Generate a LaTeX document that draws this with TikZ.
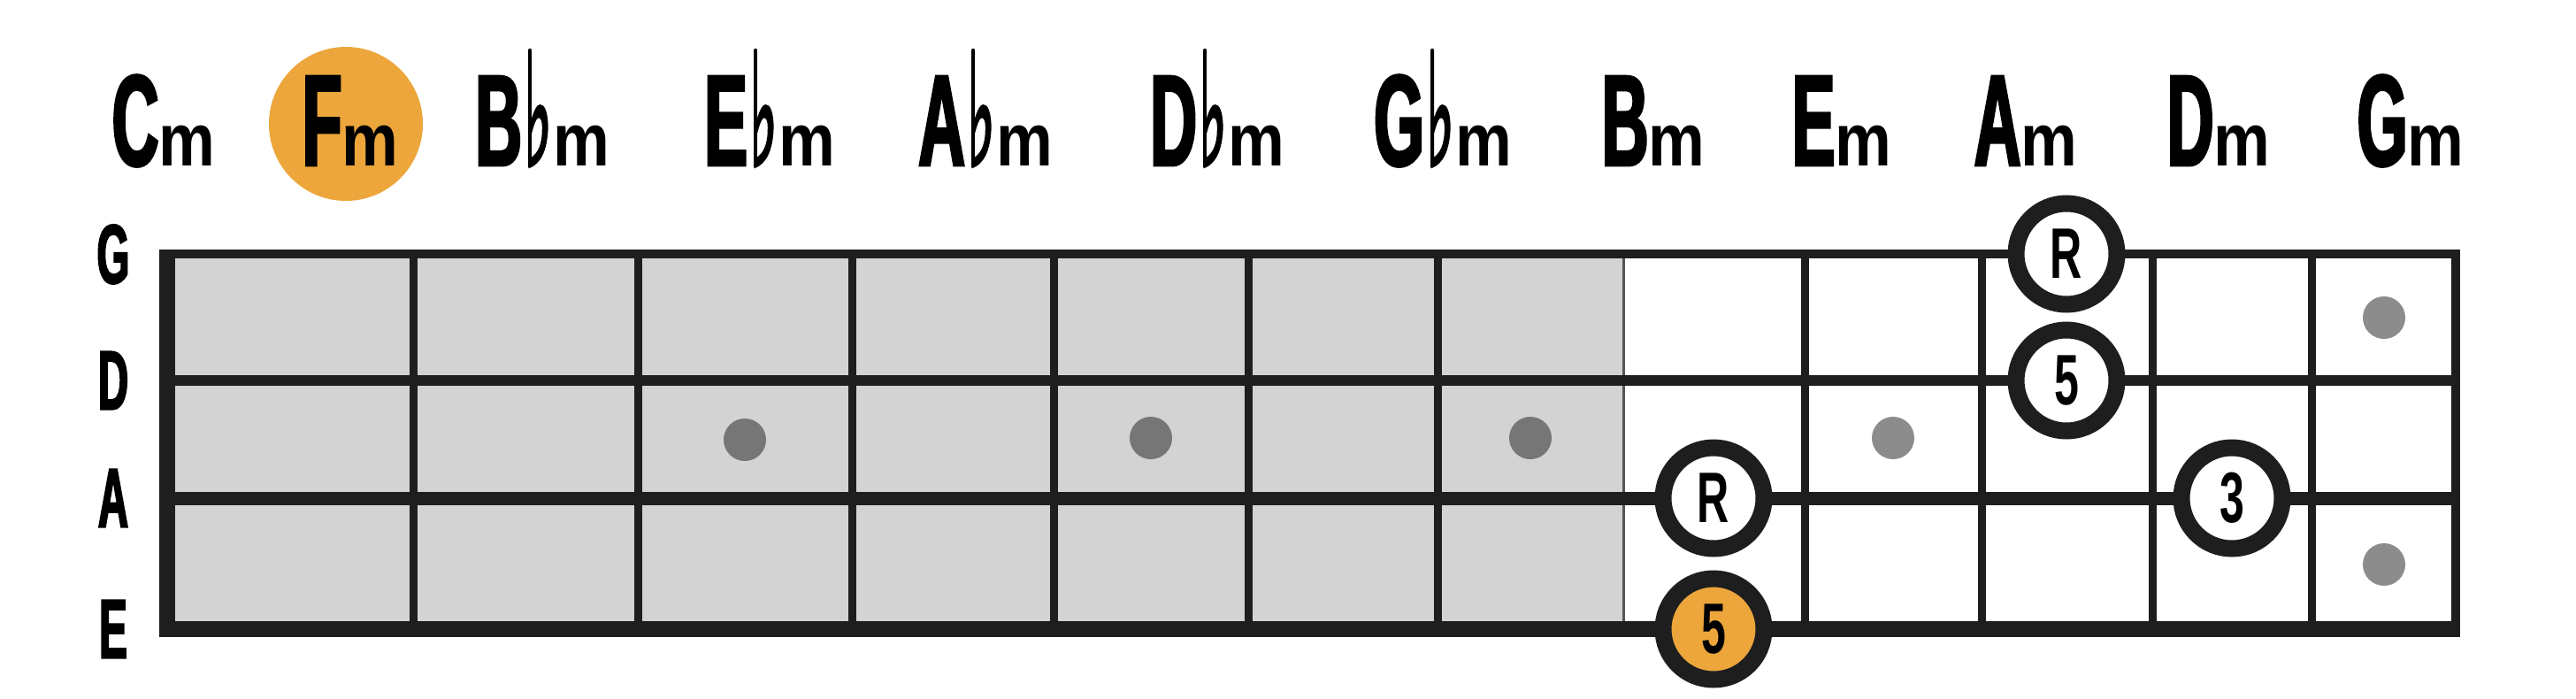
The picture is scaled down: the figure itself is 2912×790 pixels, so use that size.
\documentclass[tikz,border=0pt]{standalone}
\usepackage{fontspec}
\usepackage{tikz}
\newfontfamily\rootfont[FakeStretch=0.5,FakeBold=2]{Liberation Sans Bold}
\newfontfamily\qualfont[FakeStretch=0.85]{Liberation Sans Bold}
\newfontfamily\notefont[FakeStretch=0.62]{Liberation Sans Bold}
\newfontfamily\flatfont[FakeBold=3]{DejaVu Sans}
\definecolor{cLine}{RGB}{30,30,30}
\definecolor{cNeck}{RGB}{211,211,211}
\definecolor{cHigh}{RGB}{236,166,59}
\definecolor{cDotA}{RGB}{118,118,118}
\definecolor{cDotB}{RGB}{140,140,140}
\newcommand{\flt}{\kern0.2mm\resizebox*{3.2mm}{13mm}{\flatfont ♭}\kern0.1mm}
\newcommand{\mn}{{\qualfont\fontsize{24}{24}\selectfont m}}
\tikzset{
  chord/.style={anchor=base,inner sep=0pt,font=\rootfont\fontsize{41.7}{50}\selectfont},
  strlab/.style={inner sep=0pt,text depth=0pt,font=\rootfont\fontsize{27}{27}\selectfont},
  hl/.style={circle,fill=cHigh,minimum size=17.4mm,inner sep=0pt},          % key highlight
  note/.style={circle,draw=cLine,line width=1.9mm,fill=white,minimum size=11.4mm,
               inner sep=0pt,font=\notefont\fontsize{23}{23}\selectfont},    % chord tone
  noteH/.style={note,fill=cHigh},                                           % lowest tone
  dotA/.style={circle,fill=cDotA,minimum size=4.8mm,inner sep=0pt},         % scale dot (shaded)
  dotB/.style={dotA,fill=cDotB},                                            % scale dot
  fret/.style={cLine,line width=0.9mm},
}
\begin{document}
\begin{tikzpicture}[x=0.1mm,y=-0.1mm]
  \useasboundingbox (0,0) rectangle (2912,790);

  % circle of fourths, Fm marked
  \node[hl] (hlf) at (391,140) {};
  \foreach \nm/\tx/\xx in {cm/C/185, fm/F/396, bbm/B\flt/613, ebm/E\flt/870,
      abm/A\flt/1114, dbm/D\flt/1376, gbm/G\flt/1631, bm/B/1869,
      em/E/2082, am/A/2290, dm/D/2508, gm/G/2725}
    \node[chord] (\nm) at (\xx,187) {\tx\mn};

  % neck: shaded part, frets, strings
  \fill[cNeck] (189,287) rectangle (1835,711);
  \foreach \xx in {467,721,963,1191,1411,1625,2040,2240,2433,2613}
    \draw[fret] (\xx,287) -- (\xx,711);
  \draw[cLine!75,line width=0.3mm] (1835,282) -- (1835,720);
  \foreach \nm/\yy/\ww in {G/287/1.0, D/430/1.2, A/563/1.5, E/711/1.8}{
    \draw[cLine,line width=\ww mm] (180,\yy) -- (2781,\yy);
    \node[strlab] (s\nm) at (128,\yy) {\nm};
  }
  \draw[cLine,line width=1.8mm] (189,282) -- (189,720);
  \draw[cLine,line width=1mm] (2776,282) -- (2776,720);

  % scale dots
  \node[dotA] (d1) at (842,497) {};
  \node[dotA] (d2) at (1301,495) {};
  \node[dotA] (d3) at (1730,495) {};
  \node[dotB] (d4) at (2140,495) {};
  \node[dotB] (d5) at (2695,359) {};
  \node[dotB] (d6) at (2695,638) {};

  % chord tones
  \node[note]  (r1) at (2336,287) {R};
  \node[note]  (f1) at (2336,430) {5};
  \node[note]  (r2) at (1937,563) {R};
  \node[note]  (t1) at (2523,563) {3};
  \node[noteH] (f2) at (1937,711) {5};
\end{tikzpicture}
\end{document}
